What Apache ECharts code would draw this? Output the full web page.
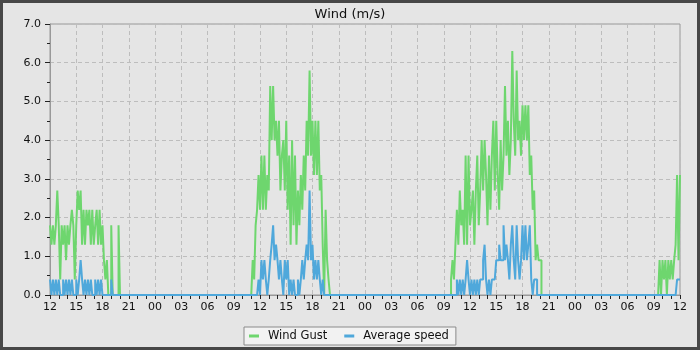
<!DOCTYPE html>
<html>
<head>
<meta charset="utf-8">
<script src="https://cdn.jsdelivr.net/npm/echarts@6/dist/echarts.min.js"></script>
<style>
  html, body { margin: 0; padding: 0; background: #e5e5e5; }
  #chart { width: 700px; height: 350px; }
</style>
</head>
<body>
<div id="chart"></div>
<script>
// X axis: hours since first 12:00 (72 hours shown), tick labels every 3 hours
const xTickLabels = ['12','15','18','21','00','03','06','09','12','15','18','21','00','03','06','09','12','15','18','21','00','03','06','09','12'];
const yTickLabels = ['0.0','1.0','2.0','3.0','4.0','5.0','6.0','7.0'];

// archive step (10 minutes, in hours)
const STEP_H = 1 / 6;

// start hour of each active stretch (hours after first 12:00)
const periodStarts = [0, 23, 45.5, 69.5];

// Wind Gust (m/s), 10-minute values
const gustDay1 = [1.8,1.3,1.8,1.3,1.8, 2.7,1.8,0.4,1.8,1.3, 1.8,0.9,1.8,1.3,1.8, 2.2,1.8,0.4,1.8,2.7,
                  2.2,2.7,1.3,2.2,1.3, 2.2,1.8,2.2,1.3,2.2, 1.3,1.8,2.2,1.3,2.2, 1.3,1.8,0.9,0.4,0.9,
                  0,0,1.8,0,0, 0,0,1.8,0];
const gustDay2 = [0,0.9,0.4,1.8,2.2,3.1, 2.2,3.6,2.2,3.6,2.2,3.1, 2.7,5.4,4.0,5.4,4.0,4.5,
                  3.6,4.5,2.7,3.6,4.0,2.7, 4.5,2.2,3.6,1.3,4.0,1.8, 3.6,1.3,2.7,1.8,3.1,2.2,
                  3.6,2.7,4.5,3.6,5.8,3.6, 4.5,3.1,4.5,3.1,4.5,2.7, 3.1,1.3,0,2.2,0.9,0.4, 0];
const gustDay3 = [0,0,0.4, 0.9,0.4,1.3,2.2,1.3,2.7, 1.8,2.2,1.3,3.6,1.3,3.6,
                  1.8,2.2,2.7,1.3,2.7,3.6, 1.8,2.7,4.0,2.7,4.0,3.1, 1.8,3.6,2.2,3.6,4.5,2.7,
                  4.5,3.1,2.2,4.0,2.7,3.6, 5.4,3.6,4.5,3.1,4.0,6.3, 4.5,3.6,5.8,4.0,4.5,3.6,
                  4.9,4.0,4.9,4.0,4.9,3.1, 3.6,2.2,2.7,0.9,1.3,0.9, 0.9,0];
const gustDay4 = [0,0.9,0, 0.9,0.4,0.9,0,0.9,0.4, 0.9,0.4,0.9,1.3,3.1,0.9, 3.1];

// Average speed (m/s), 10-minute values
const avgDay1 = [0.4,0,0.4,0,0.4, 0,0.4,0,0,0.4, 0,0.4,0,0.4,0, 0.4,0,0,0.4,0,
                 0.4,0.9,0.4,0,0.4, 0,0.4,0,0.4,0, 0,0.4,0,0.4,0, 0.4,0,0,0,0,
                 0,0,0.4,0,0, 0,0,0,0];
const avgDay2 = [0,0,0,0,0,0.4, 0,0.9,0.4,0.9,0.4,0, 0.4,0.9,1.3,1.8,0.9,1.3,
                 0.9,0.4,0.9,0.4,0,0.9, 0.4,0.9,0,0.4,0,0.4, 0,0,0.4,0,0.4,0.9,
                 0.4,0.9,1.3,0.9,2.7,0.9, 1.3,0.4,0.9,0.4,0.9,0.4, 0,0.4,0,0,0,0, 0];
const avgDay3 = [0,0,0, 0,0,0,0.4,0,0.4, 0,0.4,0,0.4,0.9,0.4,
                 0,0.4,0,0.4,0,0.4, 0,0.4,0.4,0.9,1.3,0.4, 0,0.4,0,0.4,0.4,0.4,
                 0.9,0.9,1.3,0.9,0.9,1.8, 0.9,1.3,0.9,0.4,1.3,1.8, 0.9,0.4,1.8,0.9,0.4,0.9,
                 1.8,0.9,1.8,0.9,1.3,1.8, 0.4,0,0.4,0.4,0,0, 0,0];
const avgDay4 = [0,0,0, 0,0,0,0,0,0, 0,0,0,0,0.4,0.4, 0.4];

function buildPoints(arrays) {
  const pts = [];
  arrays.forEach(function (vals, k) {
    vals.forEach(function (v, i) { pts.push([periodStarts[k] + i * STEP_H, v]); });
  });
  return pts;
}

const gustData = buildPoints([gustDay1, gustDay2, gustDay3, gustDay4]);
const avgData = buildPoints([avgDay1, avgDay2, avgDay3, avgDay4]);

const FONT = 'DejaVu Sans';
const chart = echarts.init(document.getElementById('chart'), null, { renderer: 'canvas' });
chart.setOption({
  animation: false,
  backgroundColor: '#e5e5e5',
  title: {
    text: 'Wind (m/s)',
    left: 'center',
    top: 3,
    textStyle: { fontFamily: FONT, fontSize: 13, fontWeight: 'normal', color: '#111' }
  },
  legend: {
    left: 244,
    top: 327,
    padding: [3, 7, 3, 5],
    itemGap: 17,
    itemWidth: 10,
    itemHeight: 3,
    icon: 'rect',
    backgroundColor: '#f2f2f2',
    borderColor: '#8a8a8a',
    borderWidth: 1,
    textStyle: { fontFamily: FONT, fontSize: 11.5, color: '#111', padding: [0, 0, 0, 4] },
    data: ['Wind Gust', 'Average speed']
  },
  grid: {
    left: 50, right: 20, top: 24, bottom: 55,
    show: true, borderColor: '#999', borderWidth: 1, backgroundColor: 'transparent'
  },
  xAxis: {
    type: 'value',
    min: 0, max: 72, interval: 3,
    axisLine: { show: true, lineStyle: { color: '#999', width: 1 } },
    axisTick: { show: true, length: 4, lineStyle: { color: '#222' } },
    minorTick: { show: true, splitNumber: 3, length: 4, lineStyle: { color: '#222' } },
    axisLabel: {
      margin: 7, fontFamily: FONT, fontSize: 11, color: '#111',
      formatter: function (v) { return xTickLabels[Math.round(v / 3)]; }
    },
    splitLine: { show: true, lineStyle: { color: '#bdbdbd', type: [4, 3], width: 1 } }
  },
  yAxis: {
    type: 'value',
    min: 0, max: 7, interval: 1,
    axisLine: { show: true, lineStyle: { color: '#999', width: 1 } },
    axisTick: { show: true, length: 5, lineStyle: { color: '#222' } },
    minorTick: { show: true, splitNumber: 2, length: 3, lineStyle: { color: '#222' } },
    axisLabel: {
      margin: 9, fontFamily: FONT, fontSize: 11, color: '#111',
      formatter: function (v) { return yTickLabels[Math.round(v)]; }
    },
    splitLine: { show: true, lineStyle: { color: '#bdbdbd', type: [4, 3], width: 1 } }
  },
  graphic: [{
    type: 'rect',
    z: 100,
    shape: { x: 1.5, y: 1.5, width: 697, height: 347 },
    style: { fill: 'none', stroke: '#474747', lineWidth: 3 }
  }],
  series: [
    {
      name: 'Wind Gust', type: 'line', step: 'end', showSymbol: false,
      data: gustData, color: '#6ed66e',
      lineStyle: { width: 2, color: '#6ed66e' }, z: 2
    },
    {
      name: 'Average speed', type: 'line', step: 'end', showSymbol: false,
      data: avgData, color: '#4fa8db',
      lineStyle: { width: 2, color: '#4fa8db' }, z: 3
    }
  ]
});
</script>
</body>
</html>
